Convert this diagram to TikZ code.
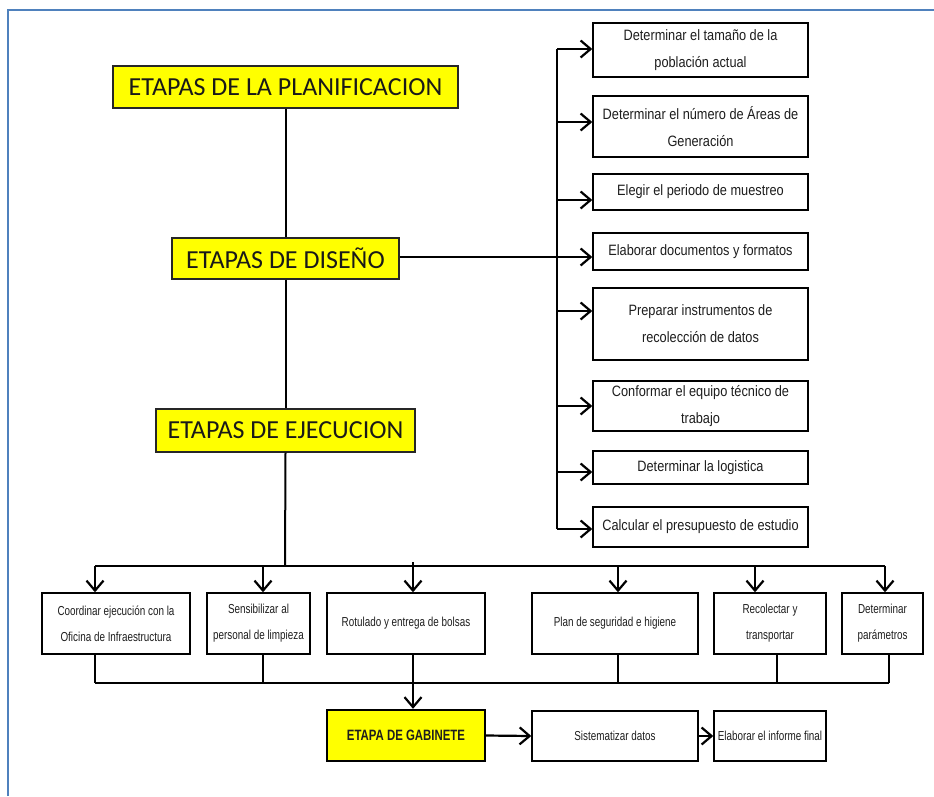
\documentclass[tikz,border=0pt]{standalone}
\usepackage{fontspec}
\usetikzlibrary{arrows.meta}
\newfontfamily\calfont{Carlito}
\newfontfamily\narA[FakeStretch=0.85]{Liberation Sans}
\newfontfamily\narB[FakeStretch=0.76]{Liberation Sans}
\definecolor{bordblue}{RGB}{79,129,189}
\definecolor{txt}{RGB}{30,30,30}
\definecolor{ylw}{RGB}{255,255,0}
\begin{document}
\begin{tikzpicture}[x=1pt,y=-1pt,
  ybox/.style={draw=black!85, line width=1.4pt, fill=ylw, inner sep=0pt, font=\calfont\fontsize{26}{30}\selectfont, text=black!90},
  rbox/.style={draw=black, line width=1.4pt, fill=white, inner sep=0pt, align=center, font=\narA\fontsize{15}{27}\selectfont, text=txt, minimum width=215pt},
  bbox/.style={draw=black, line width=1.4pt, fill=white, inner sep=0pt, align=center, font=\narB\fontsize{13}{26}\selectfont, text=txt, minimum height=61pt},
  lbox/.style={draw=black, line width=1.4pt, fill=white, inner sep=0pt, align=center, font=\narB\fontsize{13}{26}\selectfont, text=txt, minimum height=50pt},
  conn/.style={line width=2pt},
  arr/.style={line width=2.2pt, -{Straight Barb[length=10pt,width=17pt]}}
]
\useasboundingbox (0,0) rectangle (934,796);
% frame (top and left)
\draw[bordblue, line width=2pt] (8,796) -- (8,10) -- (934,10);

% yellow stage boxes
\node[ybox, minimum width=345pt, minimum height=42pt] (P) at (285.5,87) {ETAPAS DE LA PLANIFICACION};
\node[ybox, minimum width=227pt, minimum height=41pt] (D) at (285.5,258.5) {ETAPAS DE DISEÑO};
\node[ybox, minimum width=259pt, minimum height=43pt] (E) at (285.5,430.5) {ETAPAS DE EJECUCION};

% right column boxes
\node[rbox, minimum height=54pt] (r1) at (700.5,50) {Determinar el tamaño de la\\población actual};
\node[rbox, minimum height=61pt] (r2) at (700.5,126.5) {Determinar el número de Áreas de\\Generación};
\node[rbox, minimum height=36pt] (r3) at (700.5,192) {Elegir el periodo de muestreo};
\node[rbox, minimum height=37pt] (r4) at (700.5,251.5) {Elaborar documentos y formatos};
\node[rbox, minimum height=72pt] (r5) at (700.5,324) {Preparar instrumentos de\\recolección de datos};
\node[rbox, minimum height=50pt] (r6) at (700.5,406) {Conformar el equipo técnico de\\trabajo};
\node[rbox, minimum height=33pt] (r7) at (700.5,467.5) {Determinar la logistica};
\node[rbox, minimum height=40pt] (r8) at (700.5,527) {Calcular el presupuesto de estudio};

% bottom row boxes
\node[bbox, minimum width=148pt] (B1) at (116,623.5) {Coordinar ejecución con la\\Oficina de Infraestructura};
\node[bbox, minimum width=103pt] (B2) at (258.5,623.5) {Sensibilizar al\\personal de limpieza};
\node[bbox, minimum width=158pt] (B3) at (406,623.5) {Rotulado y entrega de bolsas};
\node[bbox, minimum width=166pt] (B4) at (615,623.5) {Plan de seguridad e higiene};
\node[bbox, minimum width=112pt] (B5) at (770,623.5) {Recolectar y\\transportar};
\node[bbox, minimum width=81pt] (B6) at (882.5,623.5) {Determinar\\parámetros};

% last row
\node[draw=black, line width=2.4pt, fill=ylw, inner sep=0pt, minimum width=158pt, minimum height=51pt, font=\narB\bfseries\fontsize{15}{18}\selectfont, text=txt] (G) at (406,735.5) {ETAPA DE GABINETE};
\node[lbox, minimum width=166pt] (S) at (615,736) {Sistematizar datos};
\node[lbox, minimum width=112pt] (F) at (770,736) {Elaborar el informe final};

% main vertical connectors
\draw[conn] (P.south) -- (D.north);
\draw[conn] (D.south) -- (E.north);

% design bus
\coordinate (bt) at (557,49);
\coordinate (bb) at (557,529);
\coordinate (b1) at (557,49);
\coordinate (b2) at (557,122);
\coordinate (b3) at (557,200);
\coordinate (b4) at (549,257);
\coordinate (b5) at (557,311);
\coordinate (b6) at (557,406);
\coordinate (b7) at (557,472);
\coordinate (b8) at (557,529);
\draw[conn] (bt) -- (bb);
\draw[line width=1.4pt] (D.east |- b4) -- (b4);
\draw[arr] (b1) -- (r1.west |- b1);
\draw[arr] (b2) -- (r2.west |- b2);
\draw[arr] (b3) -- (r3.west |- b3);
\draw[arr] (b4) -- (r4.west |- b4);
\draw[arr] (b5) -- (r5.west |- b5);
\draw[arr] (b6) -- (r6.west |- b6);
\draw[arr] (b7) -- (r7.west |- b7);
\draw[arr] (b8) -- (r8.west |- b8);

% execution bus (top)
\coordinate (eb) at (285,566);
\coordinate (t1) at (95,566);
\coordinate (t2) at (263,566);
\coordinate (t3) at (413,562);
\coordinate (t4) at (618,566);
\coordinate (t5) at (755,566);
\coordinate (t6) at (885,566);
\draw[conn] (E.south) -- (eb);
\draw[conn] (t1) -- (t6);
\draw[arr] (t1) -- (t1 |- B1.north);
\draw[arr] (t2) -- (t2 |- B2.north);
\draw[arr] (t3) -- (t3 |- B3.north);
\draw[arr] (t4) -- (t4 |- B4.north);
\draw[arr] (t5) -- (t5 |- B5.north);
\draw[arr] (t6) -- (t6 |- B6.north);

% execution bus (bottom)
\coordinate (u1) at (95,683);
\coordinate (u2) at (263,683);
\coordinate (u3) at (413,683);
\coordinate (u4) at (618,683);
\coordinate (u5) at (777,683);
\coordinate (u6) at (889,683);
\draw[conn] (u1) -- (u6);
\draw[conn] (u1 |- B1.south) -- (u1);
\draw[conn] (u2 |- B2.south) -- (u2);
\draw[conn] (u4 |- B4.south) -- (u4);
\draw[conn] (u5 |- B5.south) -- (u5);
\draw[conn] (u6 |- B6.south) -- (u6);
\draw[arr] (u3 |- B3.south) -- (u3 |- G.north);

% last row arrows
\draw[arr] (G.east) -- (S.west);
\draw[arr] (S.east) -- (F.west);
\end{tikzpicture}
\end{document}
